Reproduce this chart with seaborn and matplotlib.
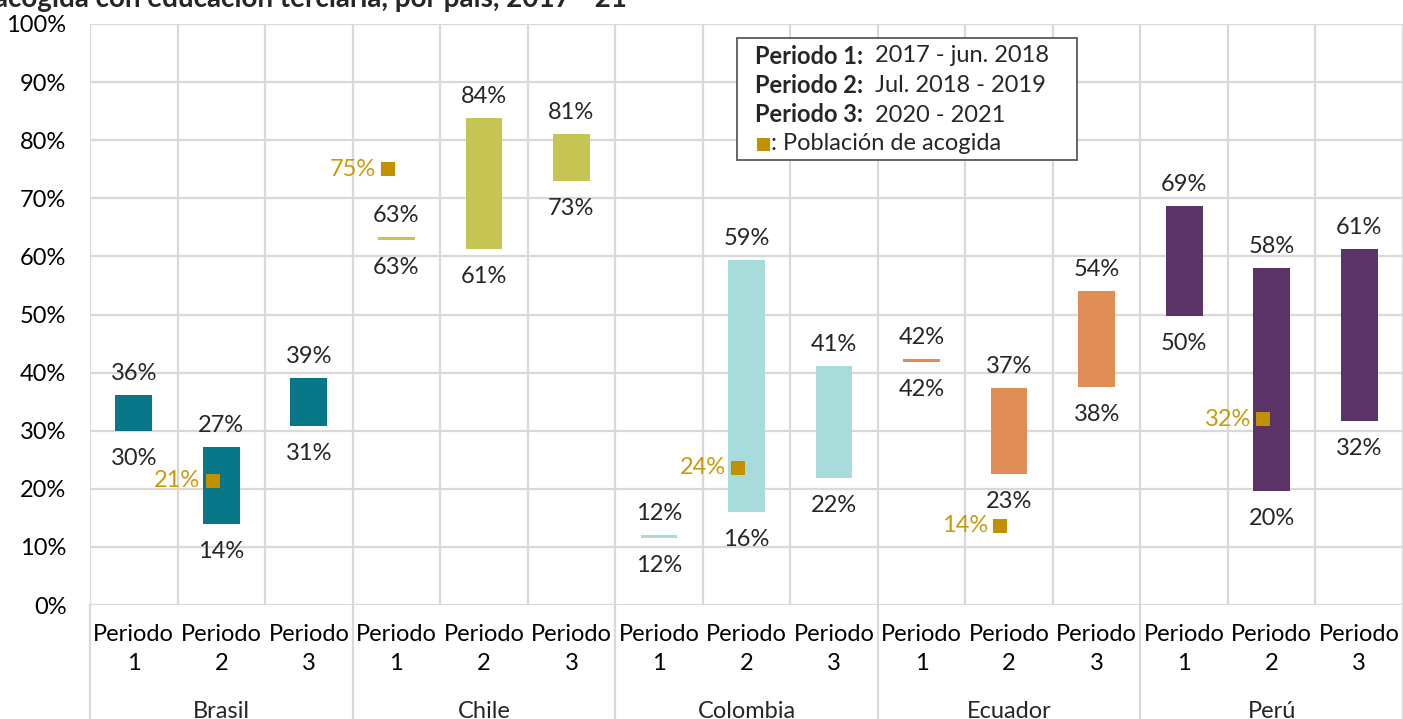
import numpy as np
import pandas as pd
import matplotlib
matplotlib.use("Agg")
import matplotlib.pyplot as plt
import matplotlib.transforms as mtransforms
from matplotlib.patches import Rectangle
import seaborn as sns

# ------------------------------------------------------
# Data (in %)
# ------------------------------------------------------
countries = ["Brasil", "Chile", "Colombia", "Ecuador", "Perú"]
period_labels = ["Periodo\n1", "Periodo\n2", "Periodo\n3"]

brasil_low = [30.0, 13.9, 30.8]
brasil_high = [36.2, 27.2, 39.1]
chile_low = [62.9, 61.3, 73.0]
chile_high = [63.4, 83.9, 81.1]
colombia_low = [11.6, 16.0, 21.9]
colombia_high = [12.1, 59.3, 41.2]
ecuador_low = [41.9, 22.6, 37.6]
ecuador_high = [42.4, 37.4, 54.1]
peru_low = [49.8, 19.6, 31.6]
peru_high = [68.6, 58.0, 61.2]

# Población de acogida (one value per country, in the given period)
acogida_period = [2, 1, 2, 2, 2]
acogida_value = [21.4, 75.0, 23.6, 13.6, 32.0]

colors = ["#077787", "#C5C553", "#A8DCDA", "#E08C55", "#5C3367"]
gold = "#C29100"
gold_txt = "#C99A10"
grid_col = "#D9D9D9"

lows = [brasil_low, chile_low, colombia_low, ecuador_low, peru_low]
highs = [brasil_high, chile_high, colombia_high, ecuador_high, peru_high]

rows = []
for ci, c in enumerate(countries):
    for pi in range(3):
        rows.append(dict(country=c, pos=ci * 3 + pi,
                         low=lows[ci][pi], high=highs[ci][pi]))
df = pd.DataFrame(rows)
df["height"] = df["high"] - df["low"]

acog = pd.DataFrame(dict(pos=[i * 3 + p - 1 for i, p in enumerate(acogida_period)],
                         value=acogida_value))

# ------------------------------------------------------
# Figure
# ------------------------------------------------------
sns.set_theme(style="white")
plt.rcParams["font.family"] = ["Lato", "DejaVu Sans"]
FS = 17

W, H = 1403, 719
fig = plt.figure(figsize=(W / 100, H / 100), dpi=100)
ax = fig.add_axes([90 / W, 1 - 605 / H, 1313 / W, 581 / H])

for ci, c in enumerate(countries):
    sub = df[df.country == c]
    sns.barplot(data=sub, x="pos", y="height", bottom=sub["low"].values,
                native_scale=True, width=0.42, color=colors[ci],
                saturation=1, linewidth=0, ax=ax)

sns.scatterplot(x=acog["pos"] - 0.1, y=acog["value"], marker="s", s=100,
                color=gold, linewidth=0, ax=ax, zorder=5)

# value labels
for _, r in df.iterrows():
    ax.annotate(f"{r.high:.0f}%", (r.pos, r.high), xytext=(0, 11),
                textcoords="offset pixels", ha="center", va="bottom", fontsize=FS)
    ax.annotate(f"{r.low:.0f}%", (r.pos, r.low), xytext=(0, -17),
                textcoords="offset pixels", ha="center", va="top", fontsize=FS)
for _, r in acog.iterrows():
    ax.annotate(f"{r.value:.0f}%", (r.pos - 0.1, r.value), xytext=(-12, 0),
                textcoords="offset pixels", ha="right", va="center",
                fontsize=FS, color=gold_txt)

# axes, grid
ax.set_xlim(-0.5, 14.5)
ax.set_ylim(0, 100)
ax.set_yticks(np.arange(0, 101, 10))
ax.set_yticklabels([f"{v}%" for v in range(0, 101, 10)])
ax.set_xticks(range(15))
ax.set_xticklabels(period_labels * 5, linespacing=1.45)
ax.tick_params(axis="both", length=0, labelsize=FS, colors="black")
ax.tick_params(axis="x", pad=14)
ax.tick_params(axis="y", pad=17)
ax.set_xlabel("")
ax.set_ylabel("")
for s in ax.spines.values():
    s.set_visible(False)

for y in range(0, 101, 10):
    ax.axhline(y, color=grid_col, lw=1.6, zorder=0)
for x in np.arange(-0.5, 15, 1):
    ax.axvline(x, color=grid_col, lw=1.6, zorder=0)

trans = mtransforms.blended_transform_factory(ax.transData, ax.transAxes)
for x in np.arange(-0.5, 15, 3):
    ax.plot([x, x], [0, -0.25], color=grid_col, lw=1.6, transform=trans,
            clip_on=False)
for ci, c in enumerate(countries):
    ax.text(ci * 3 + 1, -0.183, c, transform=trans, ha="center", va="center",
            fontsize=FS)

# legend box
fx = lambda px: px / W
fy = lambda py: 1 - py / H
fig.add_artist(Rectangle((fx(737), fy(160)), (1077 - 737) / W, (160 - 38) / H,
                         transform=fig.transFigure, facecolor="white",
                         edgecolor="#595959", lw=1.3, zorder=10))
legend_rows = [("Periodo 1:", "2017 - jun. 2018"),
               ("Periodo 2:", "Jul. 2018 - 2019"),
               ("Periodo 3:", "2020 - 2021")]
for i, (b, t) in enumerate(legend_rows):
    yy = fy(56 + i * 29.5)
    fig.text(fx(755), yy, b, fontsize=FS, weight="bold", va="center", zorder=11)
    fig.text(fx(875), yy, t, fontsize=FS, va="center", zorder=11)
fig.add_artist(Rectangle((fx(757), fy(151)), 13 / W, 13 / H,
                         transform=fig.transFigure, facecolor=gold,
                         edgecolor="none", zorder=11))
fig.text(fx(771), fy(144), ": Población de acogida", fontsize=FS, va="center",
         zorder=11)

# title (cut off at the top as in the source)
fig.text(fx(-6), fy(7), "acogida con educación terciaria, por país, 2017 - 21",
         fontsize=20, weight="bold", va="baseline")

fig.savefig("out.png", dpi=100)
